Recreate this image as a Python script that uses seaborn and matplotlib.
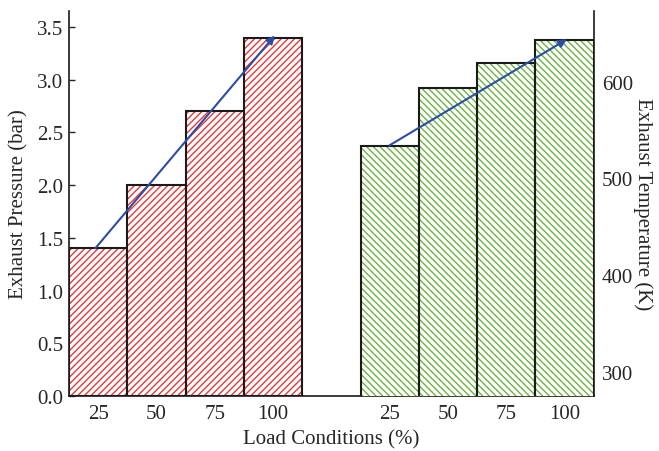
import numpy as np
import pandas as pd
import matplotlib
matplotlib.use("Agg")
import matplotlib.pyplot as plt
import seaborn as sns

# datos
load_labels = ["25", "50", "75", "100"]
pressure = [1.4, 2.0, 2.7, 3.4]          # bar
temperature = [534, 594, 619, 643]       # K
pos_pressure = [0, 1, 2, 3]
pos_temp = [5, 6, 7, 8]

sns.set_style("ticks")
plt.rcParams["font.family"] = ["Liberation Serif", "DejaVu Serif"]
plt.rcParams["font.size"] = 15
plt.rcParams["hatch.linewidth"] = 1.0

red = "#e8383a"
green = "#6cb33f"
blue = "#2b4ea3"
fs = 15

df_p = pd.DataFrame({"pos": pos_pressure, "val": pressure})
df_t = pd.DataFrame({"pos": pos_temp, "val": temperature})

fig = plt.figure(figsize=(6.59, 4.52), dpi=100)
ax = fig.add_axes([0.1047, 0.1217, 0.7963, 0.8513])
ax2 = ax.twinx()

# barras de presion: primero el rayado rojo, luego el borde negro
sns.barplot(data=df_p, x="pos", y="val", native_scale=True, width=1, errorbar=None,
            color="white", edgecolor=red, hatch="/" * 5, linewidth=0, ax=ax)
sns.barplot(data=df_p, x="pos", y="val", native_scale=True, width=1, errorbar=None,
            fill=False, edgecolor="#1a1a1a", linewidth=1.5, ax=ax)

# barras de temperatura
sns.barplot(data=df_t, x="pos", y="val", native_scale=True, width=1, errorbar=None,
            color="white", edgecolor=green, hatch="\\" * 5, linewidth=0, ax=ax2)
sns.barplot(data=df_t, x="pos", y="val", native_scale=True, width=1, errorbar=None,
            fill=False, edgecolor="#1a1a1a", linewidth=1.5, ax=ax2)

# flechas de tendencia
ax.annotate("", xy=(3.03, 3.42), xytext=(-0.05, 1.4),
            arrowprops=dict(arrowstyle="-|>", color=blue, lw=1.5,
                            mutation_scale=12, shrinkA=0, shrinkB=0))
ax2.annotate("", xy=(8.04, 644), xytext=(4.99, 534),
             arrowprops=dict(arrowstyle="-|>", color=blue, lw=1.5,
                             mutation_scale=12, shrinkA=0, shrinkB=0))

ax.set_xlim(-0.5, 8.5)
ax.set_ylim(0, 3.65)
ax2.set_ylim(275, 673)

ax.set_xticks(pos_pressure + pos_temp)
ax.set_xticklabels(load_labels + load_labels)
ax.set_yticks(np.arange(0, 3.51, 0.5))
ax.set_yticklabels([f"{v:.1f}" for v in np.arange(0, 3.51, 0.5)])
ax2.set_yticks([300, 400, 500, 600])

ax.tick_params(axis="x", length=0, pad=6, labelsize=fs)
ax.tick_params(axis="y", direction="in", length=4, width=1, labelsize=fs, pad=4)
ax2.tick_params(axis="y", direction="in", length=4, width=1, labelsize=fs, pad=6)

ax.set_xlabel("Load Conditions (%)", fontsize=fs, labelpad=4)
ax.set_ylabel("Exhaust Pressure (bar)", fontsize=fs, labelpad=6)
ax2.set_ylabel("Exhaust Temperature (K)", fontsize=fs, rotation=270, labelpad=14)

for a in (ax, ax2):
    a.spines["top"].set_visible(False)
    for s in ("left", "right", "bottom"):
        a.spines[s].set_linewidth(1.2)
        a.spines[s].set_color("#1a1a1a")
ax.spines["right"].set_visible(False)
ax2.spines["left"].set_visible(False)
ax2.spines["bottom"].set_visible(False)

fig.savefig("out.png", dpi=100)
